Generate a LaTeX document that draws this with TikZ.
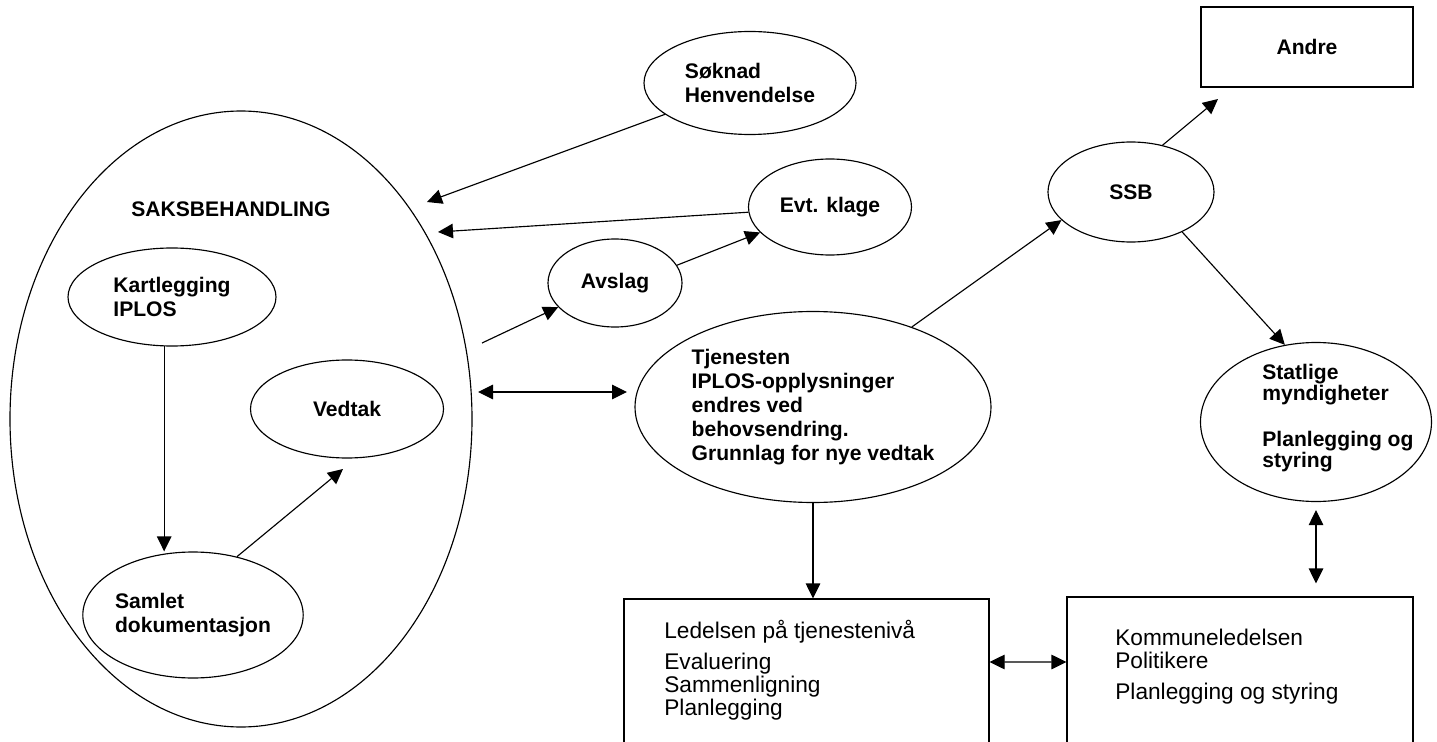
\documentclass[tikz,border=0pt]{standalone}
\usepackage{fontspec}
\setmainfont{Liberation Sans}
\usetikzlibrary{shapes.geometric,arrows.meta}

\tikzset{
  oval/.style={draw, ellipse, line width=0.65pt, inner sep=0pt, align=left,
    font=\bfseries\fontsize{12}{13.6}\selectfont},
  box/.style={draw, rectangle, line width=0.65pt, inner sep=0pt},
  plain/.style={inner sep=0pt, align=left, anchor=north west},
  arr/.style={line width=0.65pt, -{Triangle[length=0.3cm,width=0.29cm]}},
  dbl/.style={line width=0.65pt, {Triangle[length=0.3cm,width=0.29cm]}-{Triangle[length=0.3cm,width=0.29cm]}}
}

\begin{document}
\begin{tikzpicture}
%\draw[step=1cm,gray,very thin] (0,-15) grid (29,0); %background grid
\useasboundingbox (0,0) rectangle (28.74,-14.84);
\clip (0,0) rectangle (28.74,-14.84);
%saksbehandling
\node[oval, minimum width=9.24cm, minimum height=12.32cm] (saks) at (4.82,-8.38) {};
\node[inner sep=0pt, font=\bfseries\fontsize{12}{13.6}\selectfont] (saksTitle) at (4.62,-4.19) {SAKSBEHANDLING};
\node[oval, minimum width=4.16cm, minimum height=1.96cm] (kartlegging) at (3.44,-5.94) {Kartlegging\\IPLOS};
\node[oval, minimum width=3.86cm, minimum height=1.96cm] (vedtak) at (6.94,-8.18) {Vedtak};
\node[oval, minimum width=4.24cm, minimum height=2.52cm] (samlet) at (3.86,-12.30) {Samlet\\dokumentasjon};
%outside
\node[oval, minimum width=4.24cm, minimum height=2.06cm] (soknad) at (15.00,-1.66) {Søknad\\Henvendelse};
\node[oval, minimum width=3.26cm, minimum height=1.92cm] (klage) at (16.60,-4.14) {Evt. klage};
\node[oval, minimum width=2.68cm, minimum height=1.76cm] (avslag) at (12.30,-5.66) {Avslag};
\node[oval, minimum width=7.12cm, minimum height=3.82cm] (tjenesten) at (16.26,-8.14) {Tjenesten\\IPLOS-opplysninger\\endres ved\\behovsendring.\\Grunnlag for nye vedtak};
\node[oval, minimum width=3.32cm, minimum height=2.00cm] (ssb) at (22.62,-3.84) {SSB};
\node[box, minimum width=4.24cm, minimum height=1.60cm, font=\bfseries\fontsize{12}{13.6}\selectfont] (andre) at (26.14,-0.94) {Andre};
\node[oval, minimum width=4.62cm, minimum height=3.18cm] (statlige) at (26.32,-8.44) {};
\node[plain, font=\bfseries\fontsize{12}{11.9}\selectfont] (statligeTxt) at (25.24,-7.27) {Statlige\\myndigheter\\[14.7pt]Planlegging og\\styring};
%bottom boxes
\node[box, minimum width=7.30cm, minimum height=4.00cm] (ledelsen) at (16.13,-13.98) {};
\node[plain, font=\fontsize{12.9}{13}\selectfont] (ledelsenTxt) at (13.28,-12.40) {Ledelsen på tjenestenivå\\[4.6pt]Evaluering\\Sammenligning\\Planlegging};
\node[box, minimum width=6.92cm, minimum height=4.00cm] (kommune) at (24.80,-13.94) {};
\node[plain, font=\fontsize{12.9}{13}\selectfont] (kommuneTxt) at (22.30,-12.57) {Kommuneledelsen\\Politikere\\[5pt]Planlegging og styring};
%free ends
\coordinate (inSoknad) at (8.54,-4.04);
\coordinate (inKlage) at (8.76,-4.64);
\coordinate (outAvslag) at (9.64,-6.86);
\coordinate (bigR) at (9.56,-7.84);
\coordinate (tjenL) at (12.54,-7.84);
\coordinate (toAndre) at (24.36,-1.98);
\coordinate (toVedtak) at (6.86,-9.38);
%arrows
\draw[arr] (kartlegging.261) -- (kartlegging.261 |- samlet.north);
\draw[arr] (samlet.53) -- (toVedtak);
\draw[arr] (soknad) -- (inSoknad);
\draw[arr] (klage) -- (inKlage);
\draw[arr] (outAvslag) -- (avslag.203);
\draw[arr] (avslag.16) -- (klage.200);
\draw[dbl] (bigR) -- (tjenL);
\draw[arr] (tjenesten.39) -- (ssb.202);
\draw[arr] (ssb.56) -- (toAndre);
\draw[arr] (ssb.-38) -- (statlige.112);
\draw[dbl, shorten <=0.16cm, shorten >=0.26cm] (statlige.south) -- (statlige.south |- kommune.north);
\draw[arr] (tjenesten.south) -- (tjenesten.south |- ledelsen.north);
\draw[dbl] ([yshift=0.74cm]ledelsen.east) -- ([yshift=0.70cm]kommune.west);
\end{tikzpicture}
\end{document}
